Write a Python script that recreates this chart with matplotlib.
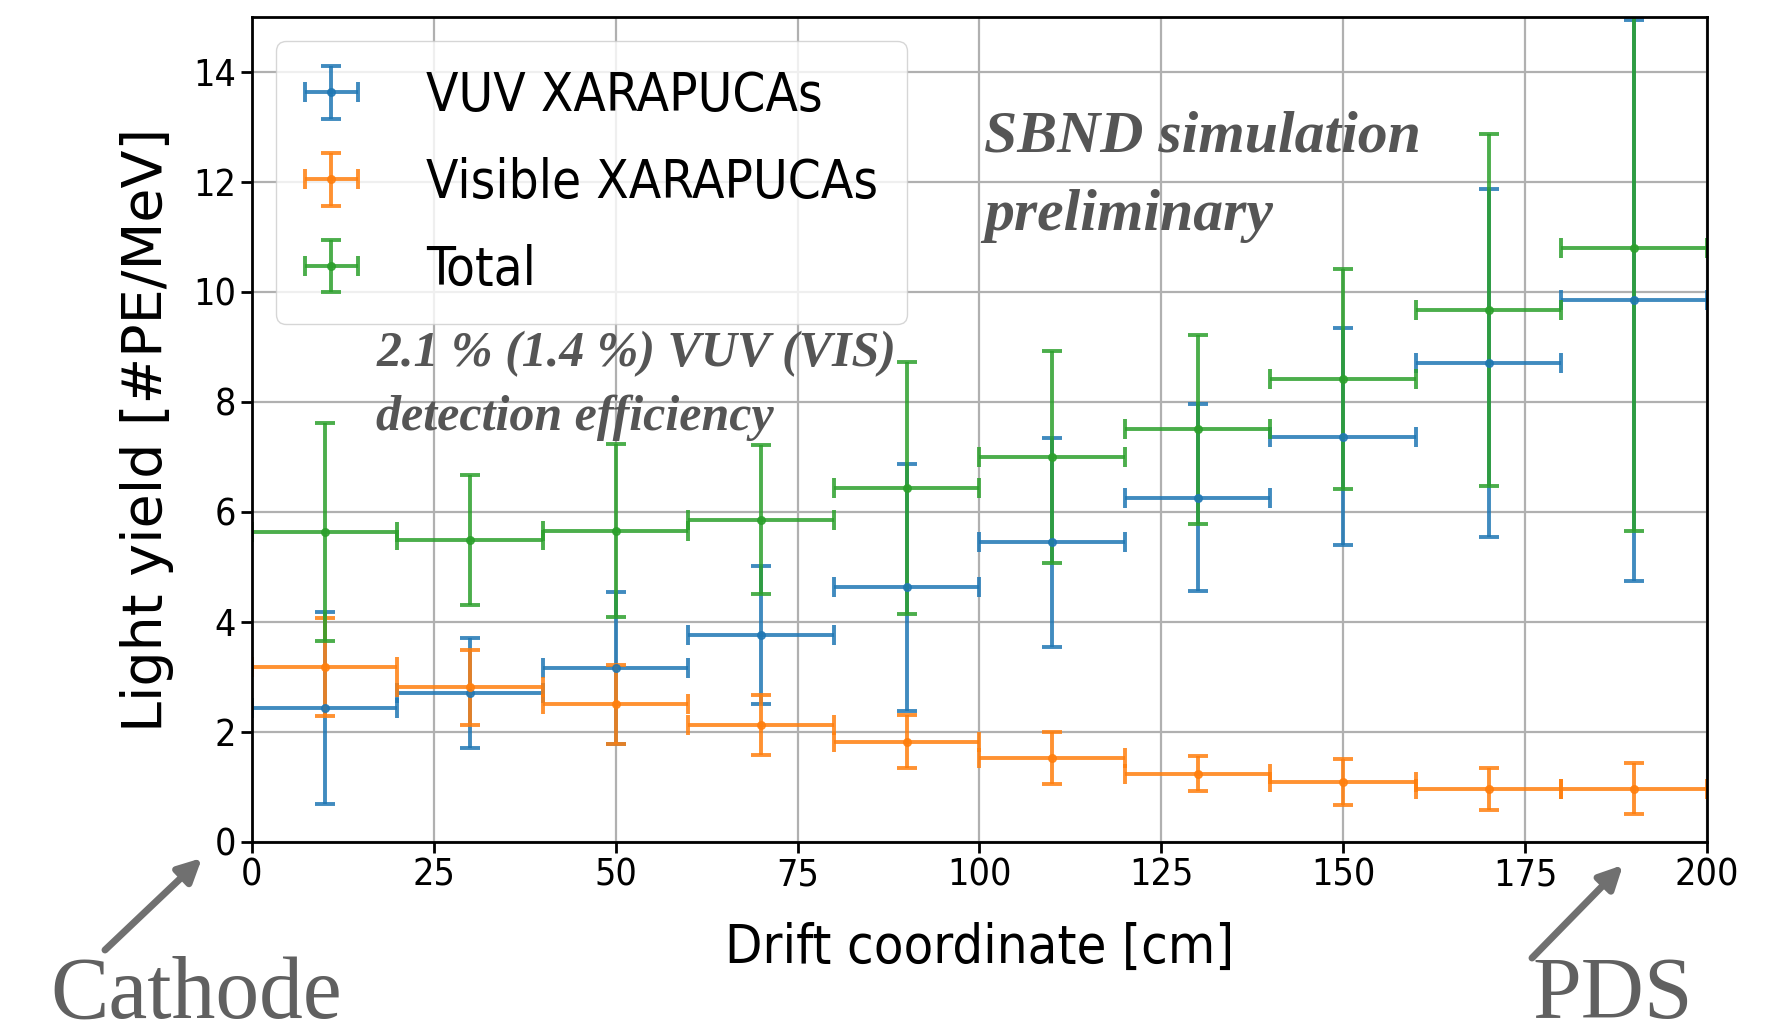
import matplotlib
matplotlib.use("Agg")
import matplotlib.pyplot as plt
import numpy as np

# ---- data ----
bin_centers = [10, 30, 50, 70, 90, 110, 130, 150, 170, 190]
bin_halfwidth = [10] * 10

vuv = [2.44, 2.70, 3.16, 3.76, 4.63, 5.45, 6.26, 7.37, 8.71, 9.85]
vuv_err = [1.75, 1.00, 1.38, 1.26, 2.25, 1.90, 1.70, 1.97, 3.17, 5.10]

vis = [3.18, 2.81, 2.50, 2.13, 1.82, 1.53, 1.24, 1.09, 0.97, 0.97]
vis_err = [0.89, 0.68, 0.72, 0.55, 0.48, 0.47, 0.32, 0.42, 0.38, 0.47]

total = [5.64, 5.49, 5.66, 5.86, 6.44, 7.00, 7.50, 8.42, 9.68, 10.80]
total_err = [1.98, 1.19, 1.57, 1.36, 2.29, 1.92, 1.72, 2.00, 3.20, 5.14]

labels = ["VUV XARAPUCAs", "Visible XARAPUCAs", "Total"]
colors = ["#1f77b4", "#ff7f0e", "#2ca02c"]

xticks = [0, 25, 50, 75, 100, 125, 150, 175, 200]
yticks = [0, 2, 4, 6, 8, 10, 12, 14]

# ---- figure ----
fig = plt.figure(figsize=(17.77, 10.36), dpi=100)
ax = fig.add_axes([0.1418, 0.1873, 0.9606 - 0.1418, 0.9836 - 0.1873])

for y, e, lab, c in zip([vuv, vis, total], [vuv_err, vis_err, total_err], labels, colors):
    ax.errorbar(bin_centers, y, xerr=bin_halfwidth, yerr=e, fmt='.', color=c,
                ms=11, elinewidth=2.8, capsize=7, capthick=2.8, label=lab, alpha=0.85)

ax.set_xlim(0, 200)
ax.set_ylim(0, 15)
ax.set_xticks(xticks)
ax.set_yticks(yticks)
ax.grid(True, color="#b0b0b0", lw=1.6)
ax.set_axisbelow(True)
for s in ax.spines.values():
    s.set_linewidth(2.0)
ax.tick_params(axis='both', labelsize=27, width=2, length=8, colors='black')
for t in ax.get_xticklabels() + ax.get_yticklabels():
    t.set_fontstretch('condensed')

ax.set_xlabel("Drift coordinate [cm]", fontsize=39, labelpad=20, fontstretch='condensed')
ax.set_ylabel("Light yield [#PE/MeV]", fontsize=40, labelpad=14)

leg = ax.legend(loc='upper left', handlelength=1.0, handletextpad=1.3,
                borderpad=0.55, labelspacing=0.66, framealpha=0.8, borderaxespad=0.45,
                prop={'size': 38, 'stretch': 'condensed'})

serif = ['Liberation Serif', 'DejaVu Serif']
gray = '#555555'
ax.text(100.6, 13.3, "SBND simulation\npreliminary", fontsize=43, family=serif,
        fontweight='bold', fontstyle='italic', color=gray, va='top', ha='left',
        linespacing=1.6)
ax.text(17.1, 9.3, "2.1 % (1.4 %) VUV (VIS)\ndetection efficiency", fontsize=36,
        family=serif, fontweight='bold', fontstyle='italic', color=gray, va='top',
        ha='left', linespacing=1.5)

W, H = 1777.0, 1036.0
fig.text(50 / W, 18 / H, "Cathode", fontsize=63, family=serif, color='#606060',
         va='baseline', ha='left')
fig.text(1532 / W, 18 / H, "PDS", fontsize=63, family=serif, color='#606060',
         va='baseline', ha='left')

arrowprops = dict(arrowstyle='-|>,head_length=1.4,head_width=0.7', color='#707070',
                  lw=5, shrinkA=0, shrinkB=0)
ax.annotate("", xy=(202 / W, 178 / H), xytext=(105 / W, 86 / H),
            xycoords='figure fraction', textcoords='figure fraction',
            arrowprops=arrowprops, annotation_clip=False)
ax.annotate("", xy=(1623 / W, 171 / H), xytext=(1532 / W, 78 / H),
            xycoords='figure fraction', textcoords='figure fraction',
            arrowprops=arrowprops, annotation_clip=False)

fig.savefig("out.png", dpi=100)
